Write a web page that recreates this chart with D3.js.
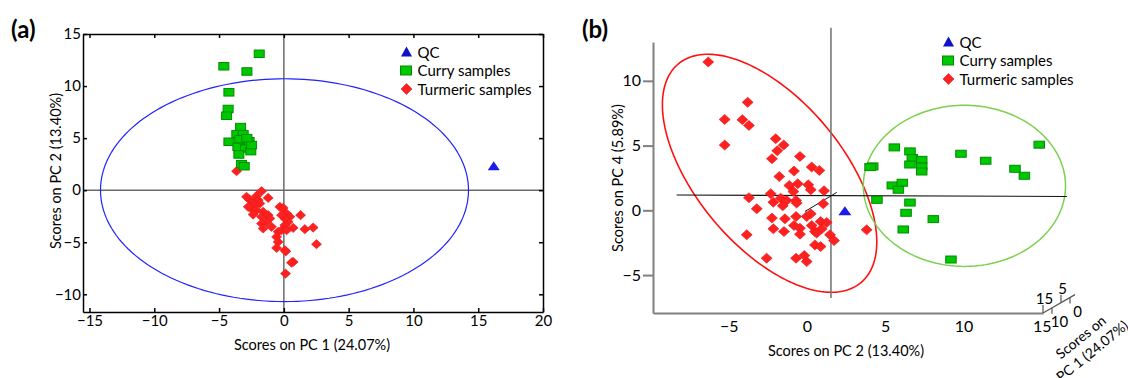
<!DOCTYPE html>
<html>
<head>
<meta charset="utf-8">
<script src="https://cdn.jsdelivr.net/npm/d3@7"></script>
<style>
  html, body { margin: 0; padding: 0; background: #fff; }
  svg { display: block; font-family: Lato, "Open Sans", sans-serif; }
</style>
</head>
<body>
<svg id="chart" width="1128" height="378"></svg>
<script>
// ---------------- DATA ----------------
// Panel (a): PC1 vs PC2
const aXTicks = [-15, -10, -5, 0, 5, 10, 15, 20];
const aYTicks = [-10, -5, 0, 5, 10, 15];
const aXLabel = "Scores on PC 1 (24.07%)";
const aYLabel = "Scores on PC 2 (13.40%)";
const qcA = [[16.2, 2.3]];
const curryA = [[-1.9,13.1],[-4.63,11.9],[-2.85,11.4],[-4.24,9.4],[-4.3,7.8],[-4.42,7.15],
  [-3.34,6.06],[-3.63,5.38],[-3.14,5.38],[-4.24,4.65],[-3.06,4.7],[-2.68,4.7],[-3.55,4.17],
  [-2.96,4.0],[-2.55,3.75],[-3.47,3.43],[-2.49,4.33],[-3.27,2.5],[-3.06,2.3],[-3.4,4.9],[-2.85,5.0]];
const turmericA = [[-3.65,1.83],[-1.72,-0.10],[-1.21,-0.74],[-2.68,-0.87],[-2.37,-1.12],[-2.11,-0.55],
  [-1.98,-0.96],[-2.62,-1.6],[-2.24,-1.44],[-1.85,-1.28],[-2.49,-1.76],[-2.11,-1.92],[-1.6,-2.08],
  [-2.37,-2.34],[-1.72,-2.56],[-1.21,-2.4],[-1.08,-2.72],[-1.34,-3.04],[-1.72,-3.2],[-1.6,-3.68],
  [-0.95,-3.52],[-0.31,-1.6],[-0.05,-1.7],[0.21,-2.24],[0.46,-2.56],[0.33,-3.04],[0.08,-3.36],
  [0.72,-3.62],[1.29,-2.4],[1.62,-3.75],[2.26,-3.59],[2.52,-5.19],[-0.44,-4.0],[-0.56,-4.49],
  [-0.44,-4.97],[-0.56,-5.55],[0.15,-5.87],[0.72,-6.89],[0.59,-6.96],[0.13,-8.01],[-0.18,-3.85],
  [0.21,-3.85],[0.08,-2.72],[-0.18,-2.4],[-2.88,-0.64],[-2.75,-1.6],[0.08,-5.77]];
// Hotelling ellipse (a): centre, radii (data units)
const ellipseA = { cx: 0.05, cy: 0, rx: 14.2, ry: 10.7 };

// Panel (b): PC2 vs PC4 (3D view, PC1 depth)
const bXTicks = [-5, 0, 5, 10, 15];
const bYTicks = [-5, 0, 5, 10];
const bZTicks = [15, 10, 5, 0];
const bXLabel = "Scores on PC 2 (13.40%)";
const bYLabel = "Scores on PC 4 (5.89%)";
const bZLabel = ["Scores on", "PC 1 (24.07%)"];
const qcB = [[2.42, -0.08]];
const curryB = [[5.58,4.86],[6.58,4.55],[6.73,4.04],[7.33,3.9],[6.58,3.54],[7.33,3.39],[7.33,3.0],
  [4.2,3.39],[4.03,3.34],[9.84,4.37],[11.42,3.83],[13.29,3.21],[13.89,2.67],[14.84,5.07],
  [5.45,1.92],[6.09,2.13],[5.84,1.59],[4.47,0.81],[6.58,0.6],[6.33,-0.19],[8.07,-0.68],
  [6.15,-1.48],[9.2,-3.8]];
const turmericB = [[-6.31,11.46],[-3.79,8.34],[-5.26,7.02],[-4.13,7.0],[-3.71,6.56],[-5.26,5.04],
  [-2.0,5.53],[-1.49,5.04],[-1.9,4.6],[-2.24,3.98],[-0.45,4.16],[0.30,3.34],[0.79,3.08],[-0.83,3.03],
  [-1.77,2.61],[-1.13,1.92],[-0.59,2.05],[0.08,1.97],[0.24,1.59],[1.09,1.51],[-0.87,1.45],[-2.32,1.28],
  [-3.71,0.97],[-2.15,0.63],[-1.68,0.94],[-1.3,0.76],[-0.7,0.76],[-0.66,0.56],[-1.55,0.35],[-3.21,0.12],
  [1.04,0.5],[-2.24,-0.6],[-1.41,-0.66],[-0.7,-0.48],[-0.02,-0.48],[0.24,-0.27],[-2.15,-1.43],
  [-1.47,-1.64],[-0.83,-1.17],[-0.45,-1.38],[-0.45,-1.84],[0.30,-1.17],[0.51,-1.64],[0.87,-0.87],
  [1.26,-0.94],[0.94,-1.43],[0.62,-1.76],[1.47,-1.89],[1.73,-2.34],[-3.85,-1.89],[0.51,-2.67],
  [0.87,-2.8],[-0.7,-3.7],[-0.17,-3.49],[-0.02,-3.96],[-2.58,-3.7],[3.81,-1.51]];
// Confidence ellipses (b): centre + two semi-axis vectors in data units
const ellipseRedB = { cx: -2.39, cy: 2.86, ax: [5.84, -8.44], bx: [-3.58, -3.64] };
const ellipseGreenB = { cx: 10.06, cy: 1.89, ax: [6.46, 0], bx: [0, 6.22] };
// projected 3D reference lines (b), data units
const vLineB = [[1.53, 14.1], [1.53, -6.77]];
const hLineB = [[-8.33, 1.18], [16.61, 1.07]];
const dLineB = [[-0.13, -0.09], [1.9, 1.38]];

const legendItems = ["QC", "Curry samples", "Turmeric samples"];

// ---------------- STYLES ----------------
const BLUE = "#1c1ce8", GREEN = "#00c800", GREEN_S = "#008c00", RED = "#ff2020", RED_S = "#e41a1a";
const svg = d3.select("#chart");

function diamond(w, h) { return `M0,${-h}L${w},0L0,${h}L${-w},0Z`; }
function triangle(w, h) { return `M0,${-h/2 - 1}L${w/2},${h/2}L${-w/2},${h/2}Z`; }

function drawMarkers(g, x, y, qc, curry, turm, sz) {
  g.selectAll(".tur").data(turm).join("path").attr("class", "tur")
    .attr("d", diamond(sz.dw, sz.dh))
    .attr("transform", d => `translate(${x(d[0])},${y(d[1])})`)
    .attr("fill", RED).attr("stroke", RED_S).attr("stroke-width", 0.6);
  g.selectAll(".cur").data(curry).join("rect").attr("class", "cur")
    .attr("x", d => x(d[0]) - sz.sw / 2).attr("y", d => y(d[1]) - sz.sh / 2)
    .attr("width", sz.sw).attr("height", sz.sh)
    .attr("fill", GREEN).attr("stroke", GREEN_S).attr("stroke-width", 1);
  g.selectAll(".qc").data(qc).join("path").attr("class", "qc")
    .attr("d", triangle(sz.tw, sz.th))
    .attr("transform", d => `translate(${x(d[0])},${y(d[1])})`)
    .attr("fill", BLUE);
}

function drawLegend(g, x0, y0, step) {
  const items = g.selectAll(".leg").data(legendItems).join("g").attr("class", "leg")
    .attr("transform", (d, i) => `translate(${x0},${y0 + i * step})`);
  items.each(function (d, i) {
    const s = d3.select(this);
    if (i === 0) s.append("path").attr("d", triangle(11, 9)).attr("fill", "#1010c8");
    if (i === 1) s.append("rect").attr("x", -6).attr("y", -4.5).attr("width", 11).attr("height", 9)
      .attr("fill", GREEN).attr("stroke", GREEN_S);
    if (i === 2) s.append("path").attr("d", diamond(5.5, 5.5)).attr("fill", RED).attr("stroke", RED_S).attr("stroke-width", 0.6);
    s.append("text").attr("x", 11).attr("y", 5.5).attr("font-size", 15).attr("fill", "#000").text(d);
  });
}

// ---------------- PANEL (a) ----------------
const xA = d3.scaleLinear().domain([-15.5, 20]).range([83, 543]);
const yA = d3.scaleLinear().domain([-11.7, 15]).range([312, 34]);
const gA = svg.append("g");

// crosshair
gA.append("line").attr("x1", xA(0)).attr("x2", xA(0)).attr("y1", yA.range()[0]).attr("y2", yA.range()[1])
  .attr("stroke", "#6a6a6a").attr("stroke-width", 1.5);
gA.append("line").attr("y1", yA(0)).attr("y2", yA(0)).attr("x1", xA.range()[0]).attr("x2", xA.range()[1])
  .attr("stroke", "#6a6a6a").attr("stroke-width", 1.5);

// ellipse
const angles = d3.range(0, 361, 2).map(a => a * Math.PI / 180);
gA.append("path")
  .attr("d", d3.line()(angles.map(t => [xA(ellipseA.cx + ellipseA.rx * Math.cos(t)), yA(ellipseA.cy + ellipseA.ry * Math.sin(t))])))
  .attr("fill", "none").attr("stroke", "#2222ff").attr("stroke-width", 1.2);

// axes
function styleAxis(sel, color, w, fs) {
  sel.select(".domain").attr("stroke", color).attr("stroke-width", w);
  sel.selectAll(".tick line").attr("stroke", color).attr("stroke-width", w);
  sel.selectAll("text").attr("font-size", fs).attr("fill", "#000").attr("font-family", "Lato");
}
styleAxis(gA.append("g").attr("transform", `translate(0,${yA.range()[0]})`)
  .call(d3.axisBottom(xA).tickValues(aXTicks).tickSize(-4).tickSizeOuter(0).tickPadding(3)), "#000", 1.5, 15);
styleAxis(gA.append("g").attr("transform", `translate(${xA.range()[0]},0)`)
  .call(d3.axisLeft(yA).tickValues(aYTicks).tickSize(-4).tickSizeOuter(0).tickPadding(2)), "#000", 1.5, 15);
styleAxis(gA.append("g").attr("transform", `translate(0,${yA.range()[1]})`)
  .call(d3.axisTop(xA).tickValues(aXTicks).tickSize(-4).tickSizeOuter(0).tickFormat("")), "#000", 1.5, 15);
styleAxis(gA.append("g").attr("transform", `translate(${xA.range()[1]},0)`)
  .call(d3.axisRight(yA).tickValues(aYTicks).tickSize(-4).tickSizeOuter(0).tickFormat("")), "#000", 1.5, 15);

drawMarkers(gA, xA, yA, qcA, curryA, turmericA, { dw: 5, dh: 4.6, sw: 10, sh: 7.5, tw: 12, th: 8 });
drawLegend(gA, 406.5, 52, 18.5);

gA.append("text").attr("x", 312).attr("y", 350).attr("text-anchor", "middle").attr("font-size", 14.5).text(aXLabel);
gA.append("text").attr("transform", "translate(61,171) rotate(-90)").attr("text-anchor", "middle").attr("font-size", 14.5).text(aYLabel);
gA.append("text").attr("x", 11).attr("y", 38).attr("font-size", 24).attr("font-weight", "bold").text("(a)");

// ---------------- PANEL (b) ----------------
const xB = d3.scaleLinear().domain([-9.84, 15.08]).range([653, 1043]);
const yB = d3.scaleLinear().domain([-7.93, 13.0]).range([313, 42]);
const gB = svg.append("g");

function ellipsePath(e) {
  return d3.line()(angles.map(t => [
    xB(e.cx + e.ax[0] * Math.cos(t) + e.bx[0] * Math.sin(t)),
    yB(e.cy + e.ax[1] * Math.cos(t) + e.bx[1] * Math.sin(t))]));
}
gB.append("path").attr("d", ellipsePath(ellipseRedB)).attr("fill", "none").attr("stroke", "#ff1010").attr("stroke-width", 1.6);
gB.append("path").attr("d", ellipsePath(ellipseGreenB)).attr("fill", "none").attr("stroke", "#7cd050").attr("stroke-width", 1.5);

const lineB = d3.line().x(d => xB(d[0])).y(d => yB(d[1]));
gB.append("path").attr("d", lineB(vLineB)).attr("stroke", "#777").attr("stroke-width", 1.6).attr("fill", "none");
gB.append("path").attr("d", lineB(hLineB)).attr("stroke", "#111").attr("stroke-width", 1.1).attr("fill", "none");
gB.append("path").attr("d", lineB(dLineB)).attr("stroke", "#111").attr("stroke-width", 1).attr("fill", "none");

styleAxis(gB.append("g").attr("transform", `translate(0,${yB.range()[0]})`)
  .call(d3.axisBottom(xB).tickValues(bXTicks).tickSize(0).tickSizeOuter(0).tickPadding(8)), "#808080", 2, 16);
styleAxis(gB.append("g").attr("transform", `translate(${xB.range()[0]},0)`)
  .call(d3.axisLeft(yB).tickValues(bYTicks).tickSize(10).tickSizeOuter(0).tickPadding(2)), "#808080", 2, 16);

// PC1 depth axis (projected)
const zScale = d3.scaleLinear().domain([15, 0]).range([0, 1]);
const zStart = [xB.range()[1], yB.range()[0]];
const zDir = [27, -15.5];
const zPos = v => [zStart[0] + zDir[0] * zScale(v), zStart[1] + zDir[1] * zScale(v)];
const zEnd = zPos(-2.8);
gB.append("line").attr("x1", zStart[0]).attr("y1", zStart[1]).attr("x2", zEnd[0]).attr("y2", zEnd[1])
  .attr("stroke", "#555").attr("stroke-width", 1.2);
bZTicks.forEach((v, i) => {
  const p = zPos(v);
  const up = i % 2 === 0;
  gB.append("line").attr("x1", p[0]).attr("x2", p[0]).attr("y1", p[1]).attr("y2", p[1] + (up ? -8 : 6))
    .attr("stroke", "#555").attr("stroke-width", 1.2);
  gB.append("text").attr("x", p[0] + (up ? 1.5 : 7.5)).attr("y", up ? p[1] - 9 : p[1] + 19)
    .attr("text-anchor", "middle").attr("font-size", 15).text(v);
});
const zl = gB.append("g").attr("transform", "translate(1084,341) rotate(-39)");
bZLabel.forEach((t, i) => zl.append("text").attr("x", 0).attr("y", i * 18).attr("text-anchor", "middle")
  .attr("font-size", 14).text(t));

drawMarkers(gB, xB, yB, qcB, curryB, turmericB, { dw: 5.5, dh: 5, sw: 10.5, sh: 7, tw: 13, th: 8 });
drawLegend(gB, 948.5, 42, 18.5);

gB.append("text").attr("x", 846).attr("y", 356).attr("text-anchor", "middle").attr("font-size", 14.5).text(bXLabel);
gB.append("text").attr("transform", "translate(623,178) rotate(-90)").attr("text-anchor", "middle").attr("font-size", 14.5).text(bYLabel);
gB.append("text").attr("x", 582).attr("y", 38).attr("font-size", 24).attr("font-weight", "bold").text("(b)");
</script>
</body>
</html>
